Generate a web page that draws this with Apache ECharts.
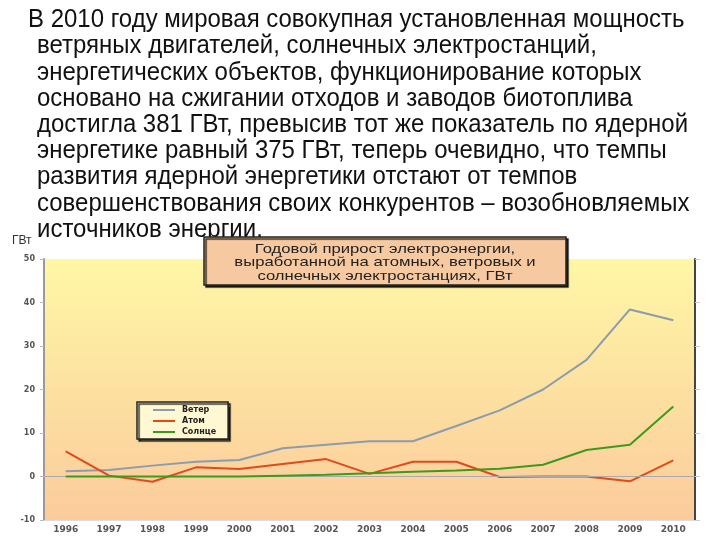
<!DOCTYPE html>
<html><head><meta charset="utf-8">
<script src="https://cdn.jsdelivr.net/npm/echarts@6/dist/echarts.min.js"></script>
<style>html,body{margin:0;padding:0;background:#fff}#c{width:720px;height:540px}</style>
</head><body><div id="c"></div>
<script>
const years = ['1996','1997','1998','1999','2000','2001','2002','2003','2004','2005','2006','2007','2008','2009','2010'];
const wind  = [1.2, 1.5, 2.5, 3.4, 3.8, 6.5, 7.3, 8.1, 8.1, 11.6, 15.2, 20.0, 26.8, 38.4, 35.9];
const atom  = [5.8, 0.2, -1.2, 2.1, 1.7, 2.9, 4.0, 0.6, 3.4, 3.4, -0.1, 0.0, 0.0, -1.1, 3.7];
const solar = [0, 0, 0, 0, 0, 0.2, 0.4, 0.75, 1.1, 1.4, 1.8, 2.7, 6.1, 7.3, 16.1];
const seriesNames = ['Ветер', 'Атом', 'Солнце'];
const yTicks = { min: -10, max: 50, interval: 10 };
const unitLabel = 'ГВт';
const chartTitleLines = ['Годовой прирост электроэнергии,', 'выработанной на атомных, ветровых и', 'солнечных электростанциях, ГВт'];
const paragraphLines = [
  'В 2010 году мировая совокупная установленная мощность',
  'ветряных двигателей, солнечных электростанций,',
  'энергетических объектов, функционирование которых',
  'основано на сжигании отходов и заводов биотоплива',
  'достигла 381 ГВт, превысив тот же показатель по ядерной',
  'энергетике равный 375 ГВт, теперь очевидно, что темпы',
  'развития ядерной энергетики отстают от темпов',
  'совершенствования своих конкурентов – возобновляемых',
  'источников энергии.'
];

const chart = echarts.init(document.getElementById('c'), null, {renderer: 'canvas'});
const paraFont = '26px "Liberation Sans", Arial, sans-serif';
const graphics = paragraphLines.map((t, i) => ({
  type: 'text', x: i === 0 ? 28 : 37, y: 20 + i * 26.2, scaleX: 0.922,
  style: { text: t, font: paraFont, fill: '#111', textVerticalAlign: 'middle' }
}));
graphics.push({ type: 'text', x: 12, y: 241, style: { text: unitLabel, font: '12px "Liberation Sans", sans-serif', fill: '#333', textVerticalAlign: 'middle' } });
const boxL = 204, boxR = 566;
graphics.push({ type: 'rect', shape: { x: boxL, y: 237, width: boxR - boxL, height: 48 },
  style: { fill: '#F7C9A0', stroke: '#222', lineWidth: 1.5, shadowColor: 'rgba(0,0,0,0.8)', shadowOffsetX: 2, shadowOffsetY: 2, shadowBlur: 1 } });
chartTitleLines.forEach((t, i) => graphics.push({ type: 'text', x: (boxL + boxR) / 2, y: 249 + i * 13.5, scaleX: 1.28,
  style: { text: t, font: '13px "Liberation Sans", Arial, sans-serif', fill: '#222', textAlign: 'center', textVerticalAlign: 'middle' } }));

const colors = ['#8C9CAC', '#E04A1C', '#3C9A1E'];
chart.setOption({
  animation: false,
  color: colors,
  grid: { left: 44, right: 25, top: 259, bottom: 20, show: true, borderWidth: 0,
    backgroundColor: new echarts.graphic.LinearGradient(0, 0, 0, 1, [
      { offset: 0, color: '#FFF7A6' }, { offset: 1, color: '#FBCB9C' }]) },
  legend: {
    orient: 'vertical', left: 137, top: 402, width: 96,
    padding: [4, 12, 3, 16], itemGap: 3, itemWidth: 22, itemHeight: 2, icon: 'rect',
    backgroundColor: '#FFF8D2', borderColor: '#222', borderWidth: 1.5,
    shadowColor: 'rgba(0,0,0,0.8)', shadowOffsetX: 2, shadowOffsetY: 2, shadowBlur: 1,
    textStyle: { fontSize: 8, fontFamily: 'DejaVu Sans', color: '#222', fontWeight: 'bold', padding: [0, 0, 0, 2] },
    data: seriesNames
  },
  xAxis: {
    type: 'category', data: years, boundaryGap: true,
    axisLine: { show: true, onZero: false, lineStyle: { color: '#ddd', width: 1 } },
    axisTick: { show: false },
    axisLabel: { fontSize: 9, fontFamily: 'DejaVu Sans', color: '#555', fontWeight: 'bold', margin: 5 }
  },
  yAxis: [{
    type: 'value', min: yTicks.min, max: yTicks.max, interval: yTicks.interval,
    axisLine: { show: true, lineStyle: { color: '#9a9a9a', width: 2 } },
    axisTick: { show: true, length: 4, lineStyle: { color: '#bbb' } },
    splitLine: { show: false },
    axisLabel: { fontSize: 8, fontFamily: 'DejaVu Sans', color: '#555', fontWeight: 'bold', margin: 9 }
  }, {
    type: 'value', position: 'right', min: yTicks.min, max: yTicks.max, interval: yTicks.interval,
    axisLine: { show: true, lineStyle: { color: '#444', width: 2 } },
    axisTick: { show: true, length: 5, lineStyle: { color: '#ccc' } },
    splitLine: { show: false }, axisLabel: { show: false }
  }],
  series: [
    { name: seriesNames[0], type: 'line', data: wind, symbol: 'none', lineStyle: { width: 2 }, z: 3,
      markLine: { silent: true, symbol: 'none', label: { show: false }, lineStyle: { color: '#aaa', width: 1, type: 'solid' }, data: [{ yAxis: 0 }] } },
    { name: seriesNames[1], type: 'line', data: atom, symbol: 'none', lineStyle: { width: 2 }, z: 4 },
    { name: seriesNames[2], type: 'line', data: solar, symbol: 'none', lineStyle: { width: 2 }, z: 5 }
  ],
  graphic: graphics
});
</script></body></html>
